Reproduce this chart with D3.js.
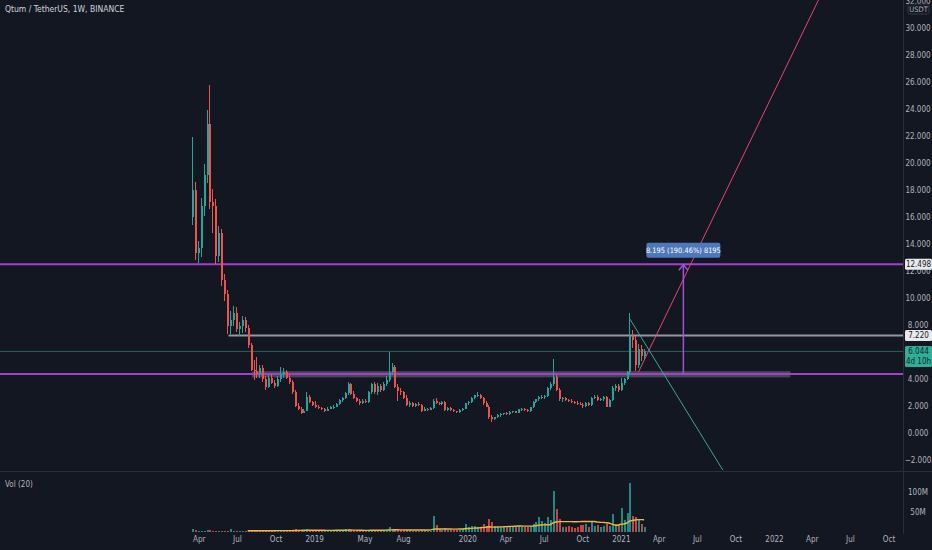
<!DOCTYPE html>
<html><head><meta charset="utf-8">
<script src="https://cdn.jsdelivr.net/npm/d3@7"></script>
<style>
html,body{margin:0;padding:0;background:#131722;}
svg{display:block;font-family:'Liberation Sans Narrow','DejaVu Sans Condensed',sans-serif;}
</style></head><body>
<svg id="c" width="932" height="550"></svg>
<script>
// ---------- DATA (weekly QTUM/USDT, Binance) ----------
const firstWeek = "2018-03-12";
const open = [
 16.0,18.0,13.3,13.7,16.8,19.1,22.9,17.1,16.8,13.1,
 14.8,11.3,10.3,7.9,8.4,8.9,7.7,7.9,8.4,7.8,
 6.5,4.7,4.6,4.4,4.8,4.0,3.4,4.1,3.7,3.5,
 4.0,4.4,4.5,4.1,3.8,3.0,2.0,1.8,1.5,1.65,
 2.65,2.3,2.1,1.95,1.85,1.8,1.65,1.8,1.9,1.95,
 2.15,2.45,2.6,2.95,3.6,2.9,2.6,2.4,2.2,2.4,
 2.3,3.0,3.6,3.0,3.5,3.2,3.6,3.9,4.5,4.9,
 3.4,3.1,3.0,2.6,2.1,2.2,2.0,2.15,2.1,1.65,
 1.8,1.72,1.85,2.4,2.2,2.15,2.3,1.7,1.85,1.7,
 1.6,1.55,1.7,1.8,2.2,2.3,2.6,2.8,2.85,2.6,
 2.2,1.95,1.2,1.05,1.15,1.3,1.4,1.45,1.4,1.55,
 1.6,1.5,1.75,1.8,1.7,1.6,1.9,2.3,2.5,2.65,
 2.7,2.75,3.3,3.6,4.15,3.2,2.5,2.6,2.45,2.4,
 2.3,2.25,2.15,2.1,2.0,2.25,2.05,2.6,2.7,2.45,
 2.5,2.65,1.95,2.45,3.35,3.5,3.15,3.7,4.0,4.5,
 7.2,6.9,5.0,6.2,5.7];
const high = [
 21.9,18.6,14.2,17.4,19.9,23.9,25.8,18.1,17.3,15.3,
 15.1,11.8,10.6,9.0,9.4,9.3,8.2,8.7,8.6,8.0,
 6.7,5.4,5.6,5.0,5.0,4.2,4.3,4.4,3.9,4.2,
 4.9,4.8,4.7,4.3,3.9,3.2,2.2,1.9,1.8,3.0,
 2.8,2.4,2.35,2.1,1.95,1.85,1.9,2.0,2.05,2.25,
 2.55,2.7,3.05,3.75,3.7,3.1,2.7,2.5,2.5,2.55,
 3.1,3.7,3.75,3.7,3.6,3.8,4.2,6.0,5.2,5.0,
 3.6,3.3,3.1,2.8,2.35,2.3,2.25,2.3,2.15,1.9,
 1.85,1.95,2.5,2.6,2.3,2.4,2.35,1.9,1.9,1.75,
 1.65,1.75,1.85,2.25,2.4,2.65,2.85,3.0,2.9,2.7,
 2.4,2.1,1.35,1.2,1.4,1.45,1.5,1.55,1.6,1.65,
 1.65,1.8,1.85,1.85,1.75,1.95,2.35,2.55,2.75,2.8,
 2.85,3.4,3.75,5.5,4.3,3.35,2.7,2.7,2.55,2.5,
 2.4,2.35,2.3,2.25,2.3,2.3,2.65,2.8,2.85,2.6,
 2.75,2.75,2.5,3.45,3.6,3.6,4.1,4.1,4.6,8.9,
 7.6,7.2,6.6,6.5,6.2];
const low = [
 15.4,12.8,12.6,13.0,16.1,18.5,16.6,14.8,12.5,12.7,
 10.9,9.8,7.3,7.3,7.9,7.5,7.2,7.4,7.5,6.3,
 4.6,3.9,4.1,4.1,3.8,3.2,3.3,3.6,3.3,3.4,
 3.8,4.1,4.0,3.6,2.9,1.9,1.7,1.4,1.45,1.6,
 2.2,2.0,1.85,1.75,1.7,1.55,1.6,1.75,1.8,1.9,
 2.1,2.3,2.5,2.8,2.8,2.5,2.3,2.1,2.15,2.2,
 2.25,2.9,2.9,2.85,3.0,3.1,3.5,3.8,4.3,3.3,
 2.4,2.8,2.5,2.0,1.95,1.9,1.9,2.0,1.55,1.6,
 1.65,1.68,1.8,2.15,2.05,2.1,1.65,1.6,1.65,1.55,
 1.5,1.5,1.65,1.75,2.1,2.25,2.5,2.65,2.5,2.1,
 1.9,1.05,0.8,0.95,1.1,1.2,1.3,1.35,1.35,1.45,
 1.45,1.45,1.65,1.65,1.55,1.55,1.85,2.2,2.35,2.5,
 2.55,2.7,3.2,3.5,3.1,2.35,2.3,2.35,2.3,2.2,
 2.15,2.1,2.05,1.85,1.95,2.0,2.0,2.5,2.4,2.35,
 2.4,1.9,1.9,2.4,3.1,3.05,3.1,3.55,3.9,4.3,
 6.3,4.6,4.8,5.3,5.5];
const close = [
 18.0,13.3,13.7,16.8,19.1,22.9,17.1,16.8,13.1,14.8,
 11.3,10.3,7.9,8.4,8.9,7.7,7.9,8.4,7.8,6.5,
 4.7,4.6,4.4,4.8,4.0,3.4,4.1,3.7,3.5,4.0,
 4.4,4.5,4.1,3.8,3.0,2.0,1.8,1.5,1.65,2.65,
 2.3,2.1,1.95,1.85,1.8,1.65,1.8,1.9,1.95,2.15,
 2.45,2.6,2.95,3.6,2.9,2.6,2.4,2.2,2.4,2.3,
 3.0,3.6,3.0,3.5,3.2,3.6,3.9,4.5,4.9,3.4,
 3.1,3.0,2.6,2.1,2.2,2.0,2.15,2.1,1.65,1.8,
 1.72,1.85,2.4,2.2,2.15,2.3,1.7,1.85,1.7,1.6,
 1.55,1.7,1.8,2.2,2.3,2.6,2.8,2.85,2.6,2.2,
 1.95,1.2,1.05,1.15,1.3,1.4,1.45,1.4,1.55,1.6,
 1.5,1.75,1.8,1.7,1.6,1.9,2.3,2.5,2.65,2.7,
 2.75,3.3,3.6,4.15,3.2,2.5,2.6,2.45,2.4,2.3,
 2.25,2.15,2.1,2.0,2.25,2.05,2.6,2.7,2.45,2.5,
 2.65,1.95,2.45,3.35,3.5,3.15,3.7,4.0,4.5,7.2,
 6.9,5.0,6.2,5.7,6.044];
// weekly volume, millions
const volume = [
 8,4,3,3,3,4,4,2,2,2,
 2,2,3,7,3,2,2,2,2,3,
 4,5,6,4,3,4,4,3,3,3,
 4,4,3,3,5,7,5,5,6,8,
 5,4,3,3,3,3,3,3,3,4,
 5,6,7,8,6,4,4,3,3,3,
 5,5,4,4,4,5,6,12,7,8,
 6,4,4,5,4,3,3,3,5,4,
 3,3,40,18,8,6,10,6,5,6,
 5,6,7,19,12,14,14,12,12,19,
 14,32,25,14,12,13,12,14,13,12,
 13,14,12,13,12,14,20,24,37,27,
 22,37,30,102,58,33,12,12,14,12,
 10,12,17,17,19,12,25,15,17,12,
 14,19,15,46,20,17,61,29,48,123,
 39,37,32,20,12];

const priceTicks = [-2,0,2,4,6,8,10,12,14,16,18,20,22,24,26,28,30,32];
const volTicks = [50,100];
const volTickLabels = ["50M","100M"];
const timeTicks = ["2018-04-01","2018-07-01","2018-10-01","2019-01-01","2019-05-01","2019-08-01",
  "2020-01-01","2020-04-01","2020-07-01","2020-10-01","2021-01-01","2021-04-01","2021-07-01",
  "2021-10-01","2022-01-01","2022-04-01","2022-07-01","2022-10-01"];
const timeTickLabels = ["Apr","Jul","Oct","2019","May","Aug","2020","Apr","Jul","Oct","2021",
  "Apr","Jul","Oct","2022","Apr","Jul","Oct"];

// drawings
const levelHigh = 12.498, levelMid = 7.220, levelSupport = 4.37, lastPrice = 6.044;
const levelMidStart = "2018-06-11";
const bandStart = "2018-08-06", bandEnd = "2022-02-09", bandLow = 4.12, bandHigh = 4.58;
const upTrend = [["2021-02-12", 4.52], ["2022-04-17", 32.07]];
const downTrend = [["2021-01-21", 8.52], ["2021-09-12", -3.3]];
const measureDate = "2021-05-30";
const measureLabel = "8.195 (190.46%) 8195";
const title = "Qtum / TetherUS, 1W, BINANCE";

// ---------- RENDER ----------
const W = 932, H = 550, axisX = 903, paneBottom = 470;
const parse = d3.utcParse("%Y-%m-%d");
const t0 = parse(firstWeek).getTime();
const dates = open.map((_, i) => new Date(t0 + (7 * i + 3.5) * 864e5));

const x = d3.scaleUtc().domain([parse("2018-01-01"), parse("2022-01-01")]).range([161, 774]);
const y = d3.scaleLinear().domain([-2.74, 32.07]).range([paneBottom, 0]);
const yv = d3.scaleLinear().domain([0, 100]).range([532, 492]);

const svg = d3.select("#c");
svg.append("rect").attr("width", W).attr("height", H).attr("fill", "#131722");
const defs = svg.append("defs");
defs.append("clipPath").attr("id", "mainclip").append("rect").attr("width", axisX).attr("height", paneBottom);
defs.append("clipPath").attr("id", "volclip").append("rect").attr("y", 472).attr("width", axisX).attr("height", 61);

const up = "#26a69a", dn = "#ef5350", txt = "#b2b5be";
const purple = "#a33fcc";

// separators
svg.append("line").attr("x1", 0).attr("x2", W).attr("y1", 471.5).attr("y2", 471.5).attr("stroke", "#2a2e39");
svg.append("line").attr("x1", axisX + 0.5).attr("x2", axisX + 0.5).attr("y1", 0).attr("y2", 534).attr("stroke", "#2a2e39");

const main = svg.append("g").attr("clip-path", "url(#mainclip)");

// band
main.append("rect")
  .attr("x", x(parse(bandStart))).attr("width", x(parse(bandEnd)) - x(parse(bandStart)))
  .attr("y", y(bandHigh)).attr("height", y(bandLow) - y(bandHigh))
  .attr("fill", "rgba(130,128,150,0.45)");

// current price line
main.append("line").attr("x1", 0).attr("x2", axisX).attr("y1", y(lastPrice)).attr("y2", y(lastPrice))
  .attr("stroke", "#2f5f5a").attr("stroke-width", 1);

// horizontal levels
main.append("line").attr("x1", 0).attr("x2", axisX).attr("y1", y(levelHigh)).attr("y2", y(levelHigh))
  .attr("stroke", purple).attr("stroke-width", 2);
main.append("line").attr("x1", 0).attr("x2", axisX).attr("y1", y(levelSupport)).attr("y2", y(levelSupport))
  .attr("stroke", purple).attr("stroke-width", 2);
main.append("line").attr("x1", x(parse(levelMidStart))).attr("x2", axisX).attr("y1", y(levelMid)).attr("y2", y(levelMid))
  .attr("stroke", "#9598a1").attr("stroke-width", 2);

// candles
const cg = main.append("g").attr("shape-rendering", "crispEdges");
dates.forEach((d, i) => {
  const cx = Math.round(x(d));
  const col = close[i] >= open[i] ? up : dn;
  cg.append("line").attr("x1", cx + 0.5).attr("x2", cx + 0.5)
    .attr("y1", y(high[i])).attr("y2", y(low[i])).attr("stroke", col).attr("stroke-width", 1);
  const yt = y(Math.max(open[i], close[i])), yb = y(Math.min(open[i], close[i]));
  cg.append("rect").attr("x", cx - 0.5).attr("width", 2)
    .attr("y", yt).attr("height", Math.max(1, yb - yt)).attr("fill", col);
});

// trend lines
const line = d3.line().x(p => x(parse(p[0]))).y(p => y(p[1]));
main.append("path").attr("d", line(upTrend)).attr("stroke", "#e2486e").attr("stroke-width", 1).attr("fill", "none");
main.append("path").attr("d", line(downTrend)).attr("stroke", "#3fa68e").attr("stroke-width", 1).attr("fill", "none");

// measurement arrow
const mx = x(parse(measureDate));
main.append("line").attr("x1", mx).attr("x2", mx).attr("y1", y(levelSupport)).attr("y2", y(levelHigh))
  .attr("stroke", "#a052d4").attr("stroke-width", 1.5);
main.append("path").attr("d", `M${mx - 4.5},${y(levelHigh) + 6}L${mx},${y(levelHigh) + 0.5}L${mx + 4.5},${y(levelHigh) + 6}`)
  .attr("stroke", "#a052d4").attr("stroke-width", 1.5).attr("fill", "none");
const lblY = y(levelHigh) - 14;
main.append("rect").attr("x", mx - 37).attr("y", lblY - 7.5).attr("width", 74).attr("height", 15).attr("rx", 2)
  .attr("fill", "#4f78bb");
main.append("text").attr("x", mx).attr("y", lblY + 2.8).attr("text-anchor", "middle")
  .attr("font-size", 7.4).attr("fill", "#ffffff").text(measureLabel);

// volume
const vg = svg.append("g").attr("clip-path", "url(#volclip)").attr("shape-rendering", "crispEdges");
dates.forEach((d, i) => {
  const cx = Math.round(x(d));
  vg.append("rect").attr("x", cx - 0.5).attr("width", 2)
    .attr("y", yv(volume[i])).attr("height", Math.max(1, yv(0) - yv(volume[i])))
    .attr("fill", close[i] >= open[i] ? up : dn).attr("opacity", 0.8);
});
const ma = volume.map((v, i) => i < 19 ? null : d3.mean(volume.slice(i - 19, i + 1)));
svg.append("path")
  .attr("d", d3.line().defined((v) => v !== null).x((v, i) => x(dates[i])).y(v => yv(v))(ma))
  .attr("stroke", "#ecb93f").attr("stroke-width", 1.4).attr("fill", "none");

// price axis
const pa = svg.append("g").attr("transform", `translate(${axisX},0)`)
  .call(d3.axisRight(y).tickValues(priceTicks).tickFormat(d3.format(".3f")).tickSize(0));
pa.select(".domain").remove();
pa.selectAll("text").attr("x", 15).attr("text-anchor", "middle").attr("fill", txt)
  .attr("font-size", 8).attr("font-family", "'Liberation Sans Narrow','DejaVu Sans Condensed',sans-serif");

// volume axis
const va = svg.append("g").attr("transform", `translate(${axisX},0)`)
  .call(d3.axisRight(yv).tickValues(volTicks).tickFormat((d, i) => volTickLabels[i]).tickSize(0));
va.select(".domain").remove();
va.selectAll("text").attr("x", 15).attr("text-anchor", "middle").attr("fill", txt)
  .attr("font-size", 8).attr("font-family", "'Liberation Sans Narrow','DejaVu Sans Condensed',sans-serif");

// time axis
const ta = svg.append("g").attr("transform", "translate(0,536)")
  .call(d3.axisBottom(x).tickValues(timeTicks.map(parse)).tickFormat((d, i) => timeTickLabels[i]).tickSize(0));
ta.select(".domain").remove();
ta.selectAll("text").attr("dy", "0.5em").attr("y", 2).attr("fill", txt)
  .attr("font-size", 8).attr("font-family", "'Liberation Sans Narrow','DejaVu Sans Condensed',sans-serif");

// axis labels / boxes
function axisBox(price, lines, fill, color) {
  const h = lines.length > 1 ? 21 : 11;
  const top = y(price) - 5.5;
  svg.append("rect").attr("x", axisX + 2).attr("y", top).attr("width", 27).attr("height", h).attr("rx", 1.5).attr("fill", fill);
  lines.forEach((t, k) => svg.append("text").attr("x", axisX + 15.5).attr("y", top + 8.3 + k * 10)
    .attr("text-anchor", "middle").attr("font-size", 8).attr("fill", color).text(t));
}
axisBox(levelHigh, [d3.format(".3f")(levelHigh)], "#e8e9ed", "#131722");
axisBox(levelMid, [d3.format(".3f")(levelMid)], "#e8e9ed", "#131722");
axisBox(lastPrice, [d3.format(".3f")(lastPrice), "4d 10h"], "#2fae98", "#0f2a27");

// USDT unit label
svg.append("rect").attr("x", axisX + 5).attr("y", 4).attr("width", 21).attr("height", 10).attr("rx", 1.5)
  .attr("fill", "#131722").attr("stroke", "#363a45");
svg.append("text").attr("x", axisX + 15.5).attr("y", 12).attr("text-anchor", "middle")
  .attr("font-size", 7.5).attr("fill", txt).text("USDT");

// titles
svg.append("text").attr("x", 5).attr("y", 12).attr("font-size", 8.5).attr("fill", "#d1d4dc").text(title);
svg.append("text").attr("x", 5).attr("y", 487).attr("font-size", 8).attr("fill", txt).text("Vol (20)");
</script>
</body></html>
